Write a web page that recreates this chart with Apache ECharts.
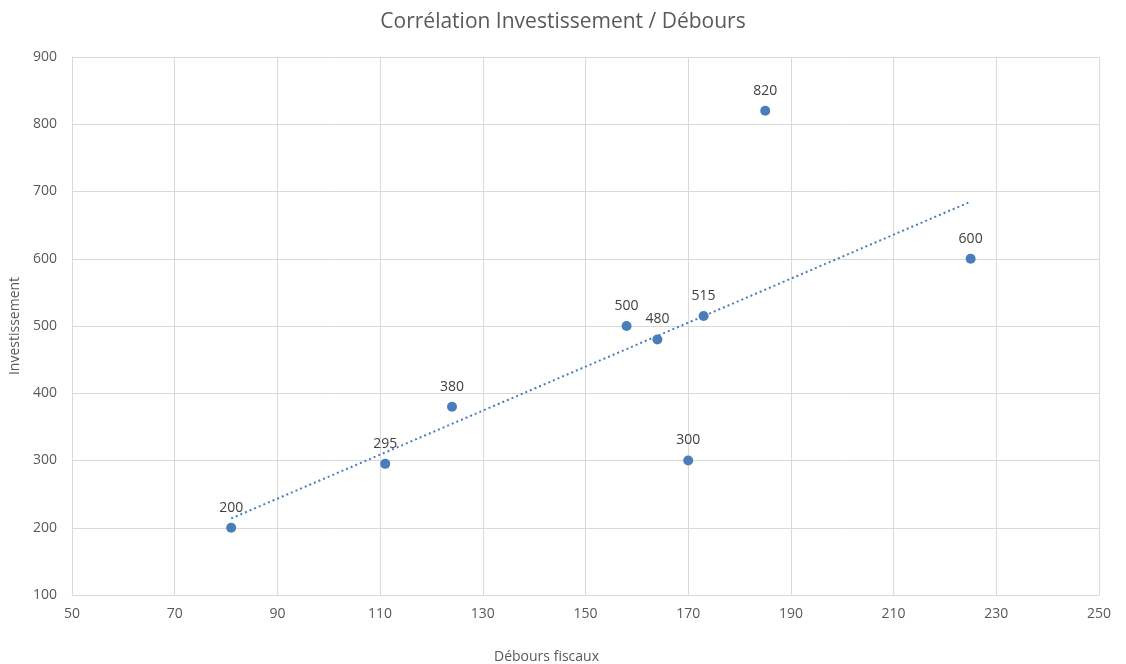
<!DOCTYPE html>
<html><head><meta charset="utf-8">
<script src="https://cdn.jsdelivr.net/npm/echarts@6/dist/echarts.min.js"></script>
<style>html,body{margin:0;padding:0;background:#fff}#c{width:1126px;height:664px}</style>
</head><body><div id="c"></div>
<script>
const debours = [81, 111, 124, 158, 164, 170, 173, 185, 225];
const investissement = [200, 295, 380, 500, 480, 300, 515, 820, 600];
const title = 'Corrélation Investissement / Débours';
const xName = 'Débours fiscaux';
const yName = 'Investissement';

// linear regression trendline (as Excel's linear trendline)
const n = debours.length;
const mx = debours.reduce((a,b)=>a+b,0)/n;
const my = investissement.reduce((a,b)=>a+b,0)/n;
let sxy=0, sxx=0;
for (let i=0;i<n;i++){ sxy+=(debours[i]-mx)*(investissement[i]-my); sxx+=(debours[i]-mx)**2; }
const slope = sxy/sxx, icpt = my - slope*mx;
const xmin = Math.min(...debours), xmax = Math.max(...debours);
const trend = [[xmin, icpt+slope*xmin],[xmax, icpt+slope*xmax]];

const font = '"Open Sans", "Noto Sans", sans-serif';
const chart = echarts.init(document.getElementById('c'), null, {renderer:'canvas'});
chart.setOption({
  animation:false,
  title:{text:title,left:'center',top:7,textStyle:{fontFamily:font,fontSize:21,fontWeight:'normal',color:'#595959'}},
  grid:{left:72,right:27,top:57,bottom:69,containLabel:false,outerBoundsMode:'none'},
  xAxis:{type:'value',min:50,max:250,interval:20,
    name:xName,nameLocation:'middle',nameGap:55,
    nameTextStyle:{fontFamily:font,fontSize:14,color:'#595959',padding:[0,78,0,0]},
    axisLine:{show:true,lineStyle:{color:'#d9d9d9'}},axisTick:{show:false},
    axisLabel:{fontFamily:font,fontSize:14,color:'#595959',margin:12},
    splitLine:{show:true,lineStyle:{color:'#d9d9d9'}}},
  yAxis:{type:'value',min:100,max:900,interval:100,
    name:yName,nameLocation:'middle',nameGap:45,
    nameTextStyle:{fontFamily:font,fontSize:14,color:'#595959'},
    axisLine:{show:true,lineStyle:{color:'#d9d9d9'}},axisTick:{show:false},
    axisLabel:{fontFamily:font,fontSize:14,color:'#595959',margin:15},
    splitLine:{show:true,lineStyle:{color:'#d9d9d9'}}},
  series:[
    {type:'line',data:trend,symbol:'none',silent:true,z:1,
      lineStyle:{color:'#4a7ebb',width:2,type:[2,3]}},
    {type:'scatter',data:debours.map((x,i)=>[x,investissement[i]]),symbolSize:10,z:3,
      itemStyle:{color:'#4a7ebb',opacity:1},
      label:{show:true,position:'top',distance:8,formatter:p=>p.value[1],
        fontFamily:font,fontSize:14,color:'#404040'}}
  ]
});
</script></body></html>
